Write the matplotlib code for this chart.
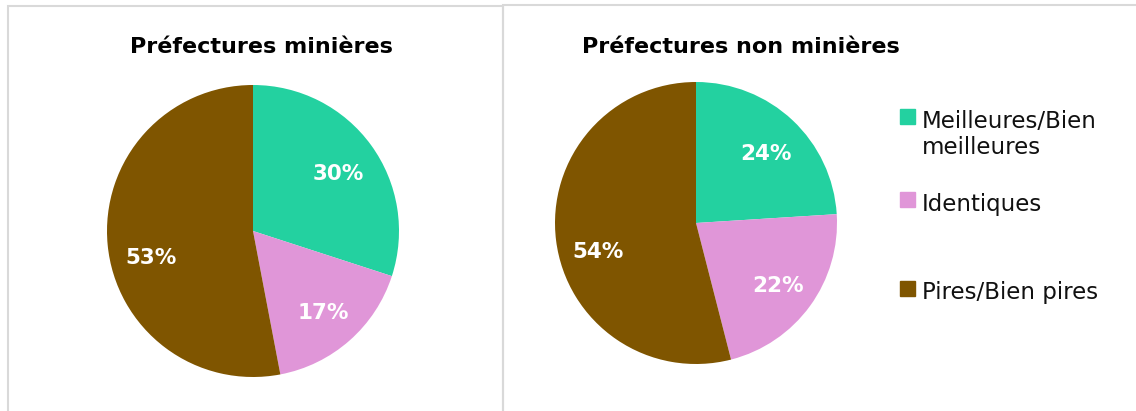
import matplotlib.pyplot as plt
from matplotlib.patches import Rectangle

plt.rcParams['font.family'] = ['DejaVu Sans']

# Données
categories = ["Meilleures/Bien\nmeilleures", "Identiques", "Pires/Bien pires"]
couleurs = ["#23D1A0", "#E096D8", "#7F5500"]
minieres = [30, 17, 53]
non_minieres = [24, 22, 54]
titres = ["Préfectures minières", "Préfectures non minières"]

W, H = 1136, 411
fig = plt.figure(figsize=(W / 100, H / 100), dpi=100)

# Cadres des deux panneaux
fig.add_artist(Rectangle((8 / W, -0.02), (503 - 8) / W, (H - 5.5) / H + 0.02,
                         transform=fig.transFigure, fill=False, ec="#d9d9d9", lw=1.5))
fig.add_artist(Rectangle((503 / W, -0.02), (W - 503 + 5) / W, (H - 5) / H + 0.02,
                         transform=fig.transFigure, fill=False, ec="#d9d9d9", lw=1.5))


def camembert(cx, cy, r, valeurs, titre, tx):
    ax = fig.add_axes([(cx - r) / W, (H - cy - r) / H, 2 * r / W, 2 * r / H])
    _, _, autotexts = ax.pie(valeurs, colors=couleurs, startangle=90, counterclock=False,
                             autopct=lambda p: f"{round(p)}%", pctdistance=0.71, radius=1,
                             textprops=dict(color="white", fontsize=15.5, fontweight="bold"))
    # placement des étiquettes un peu plus bas, comme dans Excel
    for t, v in zip(autotexts, valeurs):
        x, y = t.get_position()
        dy = 0.03 + (0.085 if v > 50 else 0)
        t.set_position((x + 0.01, y - dy))
    ax.set_xlim(-1, 1)
    ax.set_ylim(-1, 1)
    ax.set_aspect("equal")
    ax.axis("off")
    fig.text(tx / W, 1 - 47 / H, titre, ha="center", va="center",
             fontsize=16, fontweight="bold")


camembert(253, 231, 146, minieres, titres[0], 261)
camembert(696, 223, 141, non_minieres, titres[1], 741)

# Légende
leg_y = [116.5, 199.5, 288.5]
for cat, c, y in zip(categories, couleurs, leg_y):
    fig.add_artist(Rectangle((900 / W, 1 - (y + 7.5) / H), 15 / W, 15 / H,
                             transform=fig.transFigure, color=c))
    fig.text(922 / W, 1 - (y - 7) / H, cat, ha="left", va="top", fontsize=16.5,
             linespacing=1.2, color="#111111")

fig.savefig("out.png", dpi=100)
